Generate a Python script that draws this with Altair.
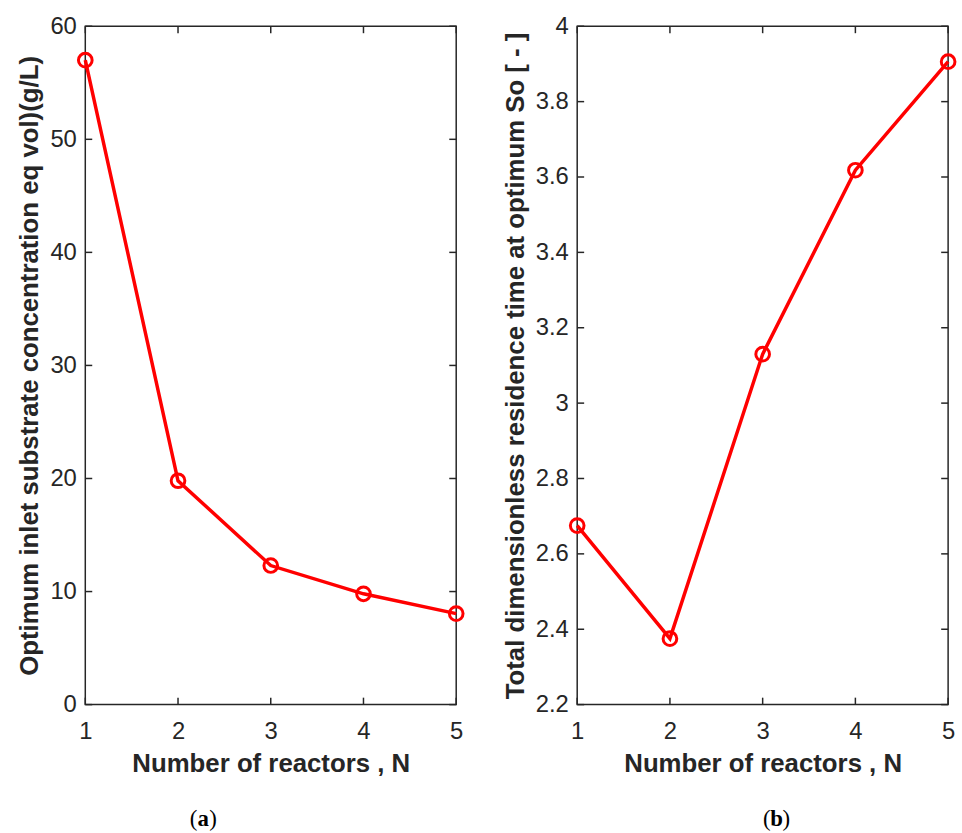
import altair as alt
import pandas as pd

# Number of reactors in series and the two optimisation results
n_reactors = [1, 2, 3, 4, 5]
so_optimum = [57.0, 19.8, 12.3, 9.8, 8.05]        # g/L
tau_total = [2.675, 2.375, 3.13, 3.618, 3.906]    # dimensionless

# Tick positions
x_ticks = [1, 2, 3, 4, 5]
y_ticks_a = [0, 10, 20, 30, 40, 50, 60]
y_ticks_b = [2.2, 2.4, 2.6, 2.8, 3.0, 3.2, 3.4, 3.6, 3.8, 4.0]

W, H = 374, 684
INK = "#262626"
RED = "#ff0000"
TICK = 7
SANS = "Liberation Sans"
SERIF = "Liberation Serif"


def panel(values, y_title, y_domain, y_ticks, y_format, tag, tag_x):
    df = pd.DataFrame({"N": n_reactors, "v": values})
    x_scale = alt.Scale(domain=[1, 5], nice=False, zero=False)
    y_scale = alt.Scale(domain=y_domain, nice=False, zero=False)

    base = alt.Chart(df)
    line = base.mark_line(color=RED, strokeWidth=3.5).encode(
        x=alt.X("N:Q", scale=x_scale,
                axis=alt.Axis(values=x_ticks, format="d",
                              title="Number of reactors , N")),
        y=alt.Y("v:Q", scale=y_scale,
                axis=alt.Axis(values=y_ticks, format=y_format, title=y_title)),
    )
    pts = base.mark_point(shape="circle", filled=False, color=RED,
                          strokeWidth=3, size=190, opacity=1).encode(
        x=alt.X("N:Q", scale=x_scale),
        y=alt.Y("v:Q", scale=y_scale),
    )

    # inward-pointing ticks on all four sides of the box
    xt = alt.Chart(pd.DataFrame({"t": x_ticks}))
    yt = alt.Chart(pd.DataFrame({"t": y_ticks}))
    rule = dict(color=INK, strokeWidth=1.5)
    xenc = alt.X("t:Q", scale=x_scale)
    yenc = alt.Y("t:Q", scale=y_scale)
    bottom = xt.mark_rule(**rule).encode(x=xenc, y=alt.value(H), y2=alt.value(H - TICK))
    top = xt.mark_rule(**rule).encode(x=xenc, y=alt.value(0), y2=alt.value(TICK))
    left = yt.mark_rule(**rule).encode(y=yenc, x=alt.value(0), x2=alt.value(TICK))
    right = yt.mark_rule(**rule).encode(y=yenc, x=alt.value(W - TICK), x2=alt.value(W))

    # sub-figure caption: "(", bold letter, ")"
    cap = alt.Chart(pd.DataFrame({"open": ["("], "tag": [tag], "close": [")"]}))
    cap_y = alt.value(H + 115)
    c_open = cap.mark_text(font=SERIF, fontSize=23, color="black", align="right",
                           baseline="middle").encode(
        text="open:N", x=alt.value(tag_x - 6), y=cap_y)
    c_tag = cap.mark_text(font=SERIF, fontSize=23, fontWeight="bold", color="black",
                          align="center", baseline="middle").encode(
        text="tag:N", x=alt.value(tag_x), y=cap_y)
    c_close = cap.mark_text(font=SERIF, fontSize=23, color="black", align="left",
                            baseline="middle").encode(
        text="close:N", x=alt.value(tag_x + 6), y=cap_y)

    return alt.layer(line, pts, bottom, top, left, right, c_open, c_tag, c_close).properties(
        width=W, height=H)


left_panel = panel(so_optimum,
                   "Optimum inlet substrate concentration eq vol)(g/L)",
                   [0, 60], y_ticks_a, "d", "a", 119)
right_panel = panel(tau_total,
                    "Total dimensionless residence time at optimum So [ - ]",
                    [2.2, 4.0], y_ticks_b, ".1~f", "b", 201)

chart = alt.hconcat(left_panel, right_panel, spacing=31).properties(
    padding={"left": 16, "top": 10, "right": 0, "bottom": 0},
    background="white",
).configure_view(
    stroke=INK, strokeWidth=1.5
).configure_axis(
    domain=False, ticks=False, tickSize=0, grid=False, labelFlush=False,
    labelFont=SANS, labelFontSize=24, labelColor=INK, labelPadding=9,
    titleFont=SANS, titleFontSize=26, titleFontWeight="bold", titleColor=INK,
    titlePadding=7,
).configure_axisX(
    labelPadding=15
)

chart.save("out.html", embed_options={"renderer": "svg", "actions": False})
